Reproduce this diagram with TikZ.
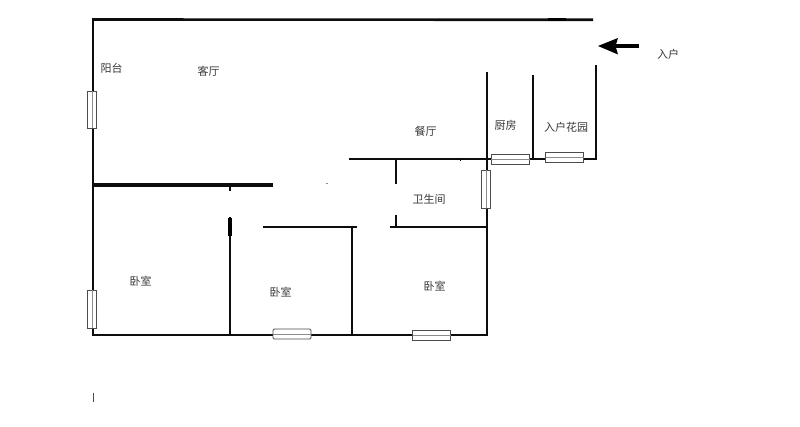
\documentclass[tikz,border=0pt]{standalone}
\usepackage{fontspec}
\setmainfont{Noto Sans CJK SC}
\begin{document}
\begin{tikzpicture}[x=1pt,y=-1pt,
  wall/.style={draw=black!95,line width=2.6pt,line cap=butt},
  thickwall/.style={draw=black!95,line width=3.8pt},
  winbox/.style={draw=black!70,fill=white,line width=0.8pt},
  winmid/.style={draw=black!45,line width=0.9pt},
  lbl/.style={inner sep=0pt,font=\fontsize{11pt}{12pt}\selectfont,text=black!78}]
\useasboundingbox (0,0) rectangle (800,427);
\fill[white] (0,0) rectangle (800,427);
% outer walls
\draw[wall] (92,19.5) -- (593,19.8);
\draw[draw=black,line width=3pt] (548,19.6) -- (566,19.6);
\draw[wall] (93,18.2) -- (93,336);
\draw[wall] (92,335) -- (488,335);
\draw[wall] (487,72) -- (487,336);
% partitions
\draw[thickwall] (91.5,185) -- (273,185);
\draw[wall] (230,185) -- (230,191);
\draw[wall] (230,217) -- (230,335);
\draw[draw=black,line width=3.4pt] (230,218) -- (230,236);
\draw[wall] (263,227) -- (357,227);
\draw[wall] (352,227) -- (352,335);
\draw[wall] (349,159) -- (597,159);
\draw[wall] (396,159) -- (396,184);
\draw[wall] (396,215) -- (396,227);
\draw[wall] (390,227) -- (487,227);
\draw[wall] (533,75) -- (533,159);
\draw[wall] (596,65) -- (596,160);
% specks
\draw[black!45,line width=0.8pt] (326,183.5) -- (328,183.5);
\draw[black!70,line width=0.9pt] (93.5,393) -- (93.5,402);
\draw[black,line width=1pt] (460,159) -- (460,161);
% windows
\draw[winbox] (87.5,91) rectangle (96.5,128);
\draw[winmid] (92,91) -- (92,128);
\draw[winbox] (87.5,290) rectangle (96.5,328);
\draw[winmid] (92,290) -- (92,328);
\draw[winbox] (481.5,170) rectangle (490.5,208);
\draw[winmid] (486,170) -- (486,208);
\draw[winbox,rounded corners=1.2pt] (273,329) rectangle (311,339);
\draw[winmid] (273,334) -- (311,334);
\draw[winbox] (412.5,330.5) rectangle (450.5,340);
\draw[winmid] (412.5,335) -- (450.5,335);
\draw[winbox] (491,154.5) rectangle (529.5,164);
\draw[winmid] (491,159) -- (529.5,159);
\draw[winbox] (545.5,152) rectangle (583.5,162);
\draw[winmid] (545.5,157) -- (583.5,157);
% entrance arrow
\draw[draw=black,line width=3.8pt] (639,46) -- (615,46);
\fill[black] (598,46) -- (618,38) -- (615.5,46) -- (618,54.5) -- cycle;
% labels
\node[lbl] (balcony) at (111.5,68) {阳台};
\node[lbl] (living) at (208.5,71) {客厅};
\node[lbl] (dining) at (425.5,131) {餐厅};
\node[lbl] (kitchen) at (505.5,125.5) {厨房};
\node[lbl] (garden) at (566,127) {入户花园};
\node[lbl] (entry) at (668,54.5) {入户};
\node[lbl] (bath) at (429,199.5) {卫生间};
\node[lbl] (bedA) at (140.5,281) {卧室};
\node[lbl] (bedB) at (280.5,292.5) {卧室};
\node[lbl] (bedC) at (434.5,286.5) {卧室};
\end{tikzpicture}
\end{document}
